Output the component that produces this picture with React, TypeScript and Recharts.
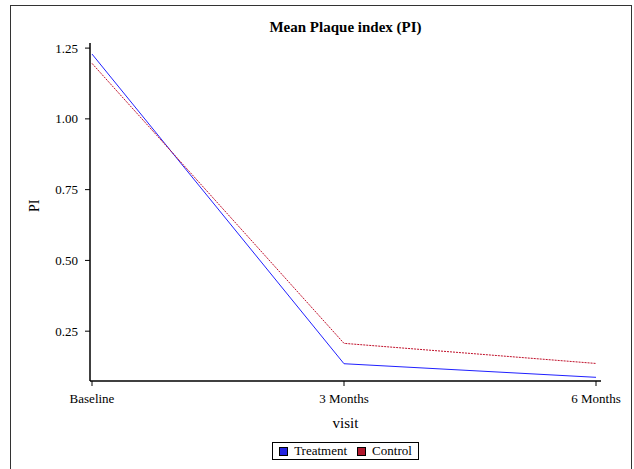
import React from 'react';
import { LineChart, Line, XAxis, YAxis } from 'recharts';

const visits = ['Baseline', '3 Months', '6 Months'];
const treatment = [1.229, 0.135, 0.087];
const control = [1.196, 0.207, 0.136];
const yTicks = [0.25, 0.5, 0.75, 1.0, 1.25];

const data = visits.map((v, i) => ({ visit: v, Treatment: treatment[i], Control: control[i] }));

const FONT = '"Liberation Serif", "Times New Roman", serif';

const LegendBox = () => (
  <div style={{ display: 'flex', justifyContent: 'center' }}>
    <div
      style={{
        border: '1px solid #000',
        display: 'flex',
        alignItems: 'center',
        padding: '0 6px',
        height: 16,
        fontFamily: FONT,
        fontSize: 13,
        color: '#000',
        background: '#fff',
      }}
    >
      <span style={{ width: 7, height: 7, border: '1px solid #000', background: '#2424e0', display: 'inline-block', marginRight: 6 }} />
      <span style={{ marginRight: 10 }}>Treatment</span>
      <span style={{ width: 7, height: 7, border: '1px solid #000', background: '#b0182c', display: 'inline-block', marginRight: 6 }} />
      <span>Control</span>
    </div>
  </div>
);

export default function App() {
  return (
    <div style={{ position: 'absolute', left: 0, top: 0, width: 634, height: 469, background: '#fff', overflow: 'hidden' }}>
      <div style={{ position: 'absolute', left: 10, top: 5, width: 620, height: 480, border: '1px solid #333' }} />
      <div
        style={{
          position: 'absolute',
          left: 90,
          width: 511,
          top: 19,
          textAlign: 'center',
          fontFamily: FONT,
          fontWeight: 'bold',
          fontSize: 15,
          color: '#000',
        }}
      >
        Mean Plaque index (PI)
      </div>
      <div style={{ position: 'absolute', left: 0, top: 0 }}>
        <LineChart width={634} height={469} data={data} margin={{ top: 43, right: 33, bottom: 0, left: 0 }}>
          <XAxis
            dataKey="visit"
            padding={{ left: 2, right: 5 }}
            height={88}
            stroke="#000"
            tickLine={{ stroke: '#000' }}
            axisLine={{ stroke: '#000', strokeWidth: 1.5 }}
            tickSize={5}
            tick={{ fill: '#000', fontFamily: FONT, fontSize: 13 }}
            tickMargin={8}
            interval={0}
            label={{ value: 'visit', position: 'insideTop', offset: 36, fill: '#000', fontFamily: FONT, fontSize: 15 }}
          />
          <XAxis xAxisId="top" orientation="top" dataKey="visit" tick={false} tickLine={false} height={0} axisLine={{ stroke: '#555' }} />
          <YAxis
            type="number"
            domain={[0.074, 1.268]}
            ticks={yTicks}
            allowDataOverflow
            width={90}
            stroke="#000"
            axisLine={{ stroke: '#000', strokeWidth: 1.5 }}
            tickLine={{ stroke: '#000' }}
            tickSize={5}
            tickMargin={7}
            tickFormatter={(v: number) => v.toFixed(2)}
            tick={{ fill: '#000', fontFamily: FONT, fontSize: 13 }}
            label={{ value: 'PI', angle: -90, position: 'insideLeft', offset: 34, fill: '#000', fontFamily: FONT, fontSize: 14 }}
          />
          <YAxis yAxisId="right" orientation="right" tick={false} tickLine={false} width={0} axisLine={{ stroke: '#555' }} domain={[0, 1]} />
          <Line
            type="linear"
            dataKey="Treatment"
            stroke="#2020ff"
            strokeWidth={1}
            dot={false}
            isAnimationActive={false}
          />
          <Line
            type="linear"
            dataKey="Control"
            stroke="#c0102a"
            strokeWidth={1}
            strokeDasharray="2 1"
            dot={false}
            isAnimationActive={false}
          />
        </LineChart>
      </div>
      <div style={{ position: 'absolute', top: 442, left: 90, width: 511 }}>
        <LegendBox />
      </div>
    </div>
  );
}
